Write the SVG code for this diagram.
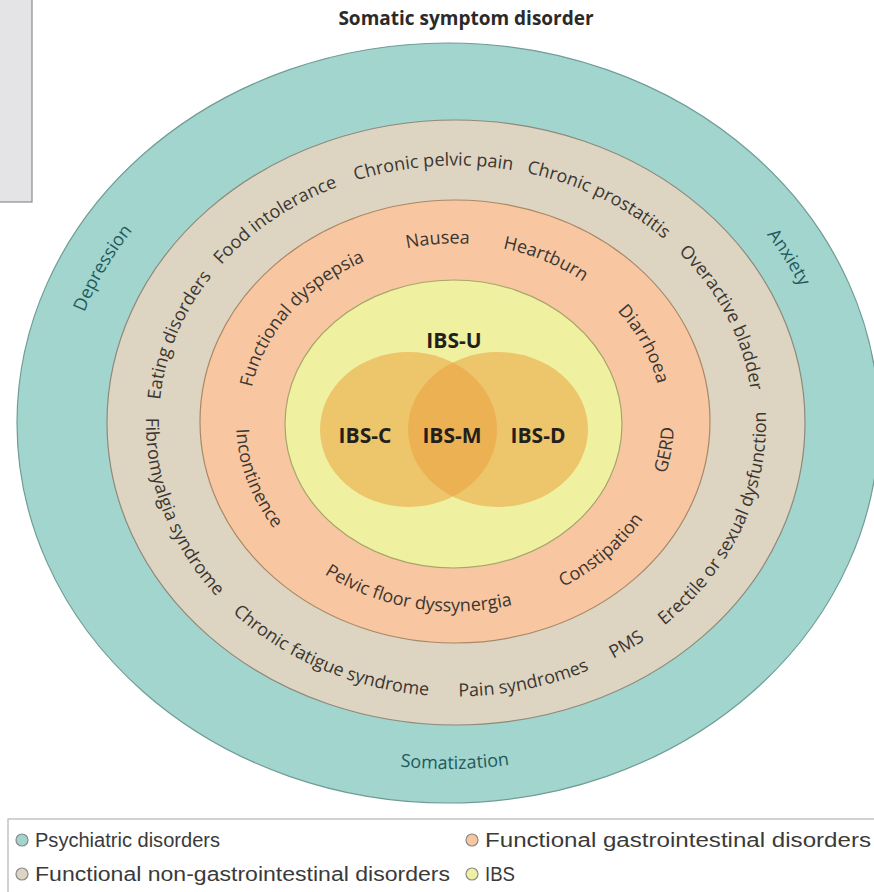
<svg xmlns="http://www.w3.org/2000/svg" width="874" height="892" viewBox="0 0 874 892">
<style>
.ring{font-family:"Open Sans","Noto Sans",sans-serif;font-size:18px;fill:#3b3631}
.teal{font-family:"Open Sans","Noto Sans",sans-serif;font-size:18px;fill:#1f5a5e}
.ibs{font-family:"Open Sans","Noto Sans",sans-serif;font-size:21px;font-weight:bold;fill:#231f1c;text-anchor:middle}
.title{font-family:"Open Sans","Noto Sans",sans-serif;font-size:19px;font-weight:bold;fill:#2a2a2a;text-anchor:middle}
.leg{font-family:"Liberation Sans","Arial",sans-serif;font-size:20px;fill:#3a3a3a}
.dot{stroke:#8a8a8a;stroke-width:1.2}
</style>
<defs>
<path id="beigeCW" d="M456,679.5 A297,257 0 0 1 159,422.5 A297,257 0 0 1 456,165.5 A297,257 0 0 1 753,422.5 A297,257 0 0 1 456,679.5"/>
<path id="beigeCCW" d="M456,148.5 A310,274 0 0 0 146,422.5 A310,274 0 0 0 456,696.5 A310,274 0 0 0 766,422.5 A310,274 0 0 0 456,148.5"/>
<path id="orangeCW" d="M455,599.5 A207,178 0 0 1 248,421.5 A207,178 0 0 1 455,243.5 A207,178 0 0 1 662,421.5 A207,178 0 0 1 455,599.5"/>
<path id="orangeCCW" d="M455,231.5 A219,190 0 0 0 236,421.5 A219,190 0 0 0 455,611.5 A219,190 0 0 0 674,421.5 A219,190 0 0 0 455,231.5"/>
<path id="tealCW" d="M448,759 A385,336 0 0 1 63,423 A385,336 0 0 1 448,87 A385,336 0 0 1 833,423 A385,336 0 0 1 448,759"/>
<path id="tealCCW" d="M448,77 A395,346 0 0 0 53,423 A395,346 0 0 0 448,769 A395,346 0 0 0 843,423 A395,346 0 0 0 448,77"/>
</defs>
<rect width="874" height="892" fill="#ffffff"/>
<rect x="-1" y="-1" width="33" height="203" fill="#e4e4e6" stroke="#8c8c8c" stroke-width="1.2"/>
<text class="title" x="466" y="25">Somatic symptom disorder</text>

<g id="psychiatric">
<ellipse cx="448" cy="423" rx="431" ry="380" fill="#a2d5cd" stroke="#6f9c97" stroke-width="1.2"/>
<text class="teal" text-anchor="middle"><textPath href="#tealCW" startOffset="32.1%">Depression</textPath></text>
<text class="teal" text-anchor="middle"><textPath href="#tealCW" startOffset="67.4%">Anxiety</textPath></text>
<text class="teal" text-anchor="middle"><textPath href="#tealCCW" startOffset="50.3%">Somatization</textPath></text>
</g>

<g id="functional-non-gi">
<ellipse cx="456" cy="422.5" rx="349" ry="302.5" fill="#ddd4c1" stroke="#8f897b" stroke-width="1.2"/>
<text class="ring" text-anchor="middle"><textPath href="#beigeCW" startOffset="30.2%">Eating disorders</textPath></text>
<text class="ring" text-anchor="middle"><textPath href="#beigeCW" startOffset="39%">Food intolerance</textPath></text>
<text class="ring" text-anchor="middle"><textPath href="#beigeCW" startOffset="48.7%">Chronic pelvic pain</textPath></text>
<text class="ring" text-anchor="middle"><textPath href="#beigeCW" startOffset="58.5%">Chronic prostatitis</textPath></text>
<text class="ring" text-anchor="middle"><textPath href="#beigeCW" startOffset="68.6%">Overactive bladder</textPath></text>
<text class="ring" text-anchor="middle"><textPath href="#beigeCCW" startOffset="30.1%">Fibromyalgia syndrome</textPath></text>
<text class="ring" text-anchor="middle"><textPath href="#beigeCCW" startOffset="42.6%">Chronic fatigue syndrome</textPath></text>
<text class="ring" text-anchor="middle"><textPath href="#beigeCCW" startOffset="53.8%">Pain syndromes</textPath></text>
<text class="ring" text-anchor="middle"><textPath href="#beigeCCW" startOffset="59.9%">PMS</textPath></text>
<text class="ring" text-anchor="middle"><textPath href="#beigeCCW" startOffset="68.9%">Erectile or sexual dysfunction</textPath></text>
</g>

<g id="functional-gi">
<ellipse cx="455" cy="421.5" rx="255" ry="221.5" fill="#f8c7a1" stroke="#a88868" stroke-width="1.2"/>
<text class="ring" text-anchor="middle"><textPath href="#orangeCW" startOffset="35.1%">Functional dyspepsia</textPath></text>
<text class="ring" text-anchor="middle"><textPath href="#orangeCW" startOffset="48.6%">Nausea</textPath></text>
<text class="ring" text-anchor="middle"><textPath href="#orangeCW" startOffset="57.6%">Heartburn</textPath></text>
<text class="ring" text-anchor="middle"><textPath href="#orangeCW" startOffset="68.4%">Diarrhoea</textPath></text>
<text class="ring" text-anchor="middle"><textPath href="#orangeCCW" startOffset="29.8%">Incontinence</textPath></text>
<text class="ring" text-anchor="middle"><textPath href="#orangeCCW" startOffset="46.9%">Pelvic floor dyssynergia</textPath></text>
<text class="ring" text-anchor="middle"><textPath href="#orangeCCW" startOffset="62.8%">Constipation</textPath></text>
<text class="ring" text-anchor="middle"><textPath href="#orangeCCW" startOffset="72.7%">GERD</textPath></text>
</g>

<g id="ibs">
<ellipse cx="453.5" cy="424" rx="168.5" ry="144" fill="#eff1a0" stroke="#a7a56a" stroke-width="1.2"/>
<ellipse cx="408.5" cy="429.5" rx="88.5" ry="77.5" fill="#eba040" fill-opacity="0.55"/>
<ellipse cx="498" cy="429.5" rx="90" ry="77.5" fill="#eba040" fill-opacity="0.55"/>
<text class="ibs" x="454" y="348">IBS-U</text>
<text class="ibs" x="365" y="443">IBS-C</text>
<text class="ibs" x="452" y="443">IBS-M</text>
<text class="ibs" x="538" y="443">IBS-D</text>
</g>

<g id="connectors"></g>

<g id="legend">
<rect x="8" y="819" width="880" height="90" fill="#ffffff" stroke="#b5b5b5" stroke-width="1.2"/>
<circle class="dot" cx="22" cy="840" r="6" fill="#a2d5cd"/>
<text class="leg" x="35" y="847" textLength="185" lengthAdjust="spacingAndGlyphs">Psychiatric disorders</text>
<circle class="dot" cx="22" cy="874" r="6" fill="#ddd4c1"/>
<text class="leg" x="35" y="881" textLength="415" lengthAdjust="spacingAndGlyphs">Functional non-gastrointestinal disorders</text>
<circle class="dot" cx="472" cy="840" r="6" fill="#f8c7a1"/>
<text class="leg" x="485" y="847" textLength="386" lengthAdjust="spacingAndGlyphs">Functional gastrointestinal disorders</text>
<circle class="dot" cx="472" cy="874" r="6" fill="#eff1a0"/>
<text class="leg" x="485" y="881" textLength="30" lengthAdjust="spacingAndGlyphs">IBS</text>
</g>
</svg>
